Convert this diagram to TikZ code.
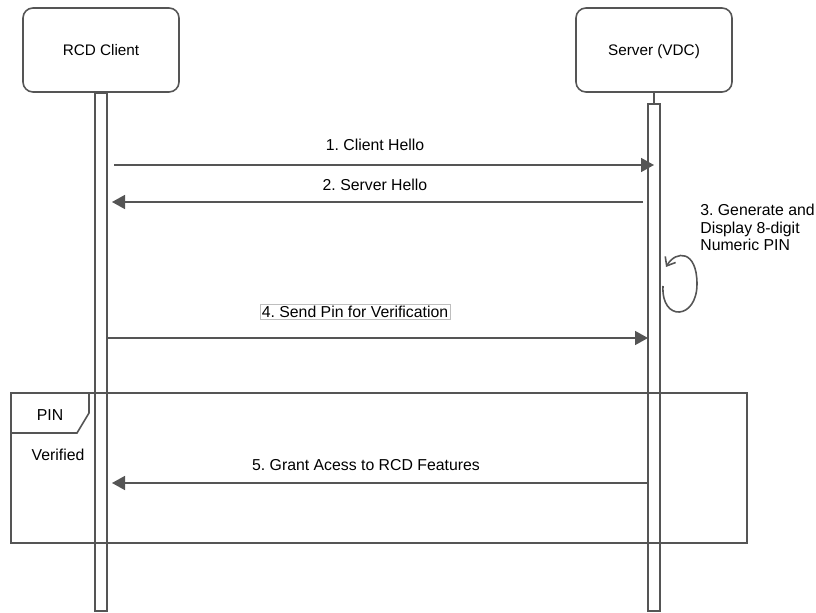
\documentclass[tikz,border=0pt]{standalone}
\usepackage{fontspec}
\setmainfont{Liberation Sans}
\usetikzlibrary{positioning,arrows.meta}
\definecolor{linegray}{RGB}{85,85,85}
\definecolor{labelborder}{RGB}{190,190,190}
\frenchspacing

\begin{document}
\begin{tikzpicture}[
                x=0.2mm, y=-0.2mm,
                font=\fontsize{9}{10}\selectfont,
                actor/.style={rectangle, rounded corners=2mm, draw=linegray, line width=0.9pt, minimum width=31.2mm, minimum height=16.8mm, text height=1.5ex, text depth=0.3ex, font=\fontsize{8.7}{10}\selectfont},
                lifeline/.style={rectangle, draw=linegray, line width=0.9pt, inner sep=0pt, outer sep=0pt, minimum width=2.5mm},
                msg/.style={-{Triangle[length=2.6mm, width=2.8mm]}, draw=linegray, line width=0.9pt},
                selfmsg/.style={-{Straight Barb[length=1.5mm, width=2.4mm]}, draw=linegray, line width=0.9pt},
                framebox/.style={draw=linegray, line width=0.9pt}
                ]
                \useasboundingbox (0,0) rectangle (816,613);

                \node[actor] (client) at (101,50) {RCD Client};
                \node[actor] (server) at (654,50) {Server (VDC)};
                \node[lifeline, minimum height=103.6mm, below=0pt of client] (cbar) {};
                \node[lifeline, minimum height=101.4mm, below=2.2mm of server] (sbar) {};
                \draw[framebox] (server.south) -- (sbar.north);

                % PIN verified fragment
                \draw[framebox] (11,393) rectangle (747,543);
                \draw[framebox] (11,433) -- (77,433) -- (89,413) -- (89,393);
                \node (pin) at (50,415) {PIN};
                \node (verified) at (58,455) {Verified};

                \coordinate (m1a) at (114,165);
                \coordinate (m1b) at (654,165);
                \coordinate (m2a) at (643,202);
                \coordinate (m2b) at (112,202);
                \coordinate (m3a) at (663,286);
                \coordinate (m3b) at (666,267);
                \coordinate (m4a) at (108,338);
                \coordinate (m4b) at (648,338);
                \coordinate (m5a) at (648,483);
                \coordinate (m5b) at (112,483);

                \node (lbl1) at (375,145) {1. Client Hello};
                \node (lbl2) at (375,185) {2. Server Hello};
                \node[anchor=north west, align=left, inner sep=0pt] (lbl3) at (700,204) {3. Generate and\\Display 8-digit\\Numeric PIN};
                \node[draw=labelborder, line width=0.3pt, inner sep=1pt] (lbl4) at (355,312) {4. Send Pin for Verification};
                \node (lbl5) at (366,465) {5. Grant Acess to RCD Features};

                \draw[msg] (m1a) -- (m1b);
                \draw[msg] (m2a) -- (m2b);
                \draw[selfmsg] (m3a) .. controls (661,322) and (697,320) .. (697,284) .. controls (697,250) and (676,250) .. (m3b);
                \draw[msg] (m4a) -- (m4b);
                \draw[msg] (m5a) -- (m5b);
            \end{tikzpicture}
\end{document}
